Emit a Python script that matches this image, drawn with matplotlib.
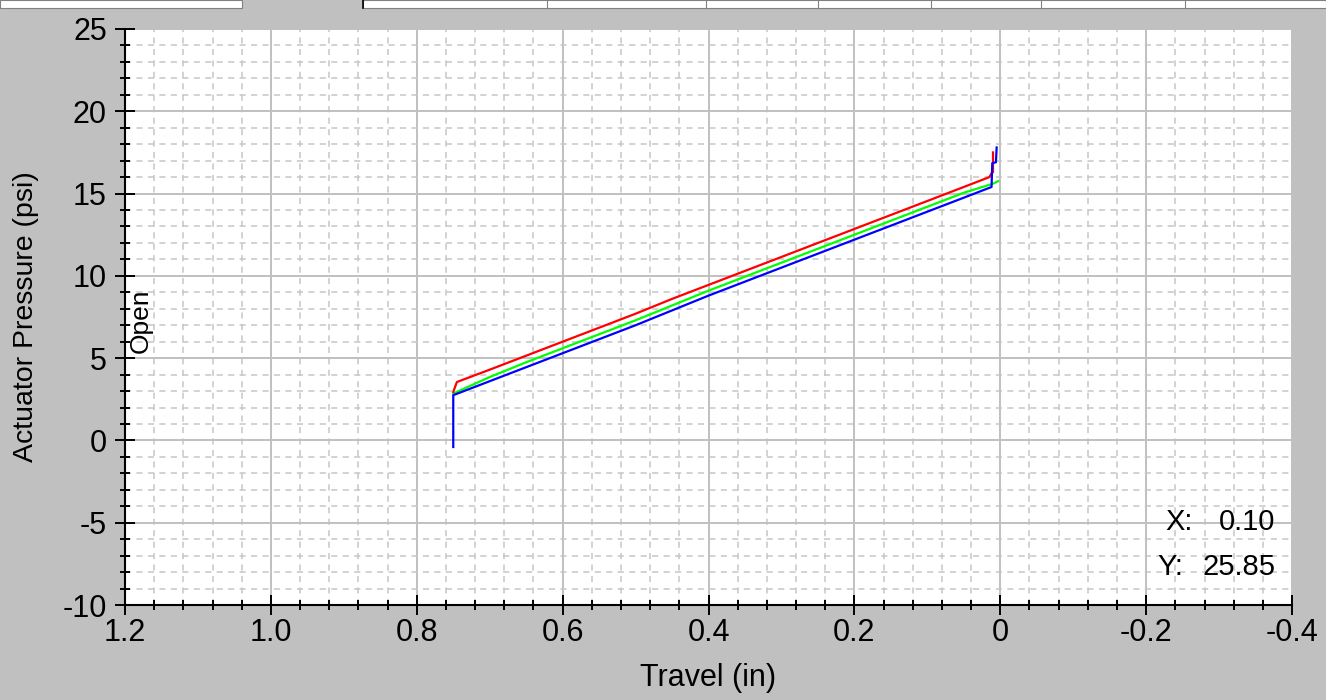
import matplotlib.pyplot as plt
from matplotlib.patches import Rectangle
from matplotlib.ticker import MultipleLocator

# travel (in) vs actuator pressure (psi)
red_travel = [0.75, 0.745, 0.70, 0.65, 0.60, 0.55, 0.50, 0.45, 0.40, 0.35, 0.30,
              0.25, 0.20, 0.15, 0.10, 0.05, 0.015, 0.011, 0.010, 0.010]
red_pressure = [2.95, 3.55, 4.3, 5.15, 6.0, 6.85, 7.7, 8.6, 9.45, 10.3, 11.15,
                12.0, 12.85, 13.7, 14.55, 15.4, 16.0, 16.3, 16.3, 17.5]

green_travel = [0.75, 0.70, 0.65, 0.60, 0.55, 0.50, 0.45, 0.40, 0.35, 0.30,
                0.25, 0.20, 0.15, 0.10, 0.05, 0.01, 0.003]
green_pressure = [2.85, 3.85, 4.75, 5.6, 6.45, 7.3, 8.2, 9.1, 9.95, 10.8,
                  11.65, 12.5, 13.35, 14.2, 15.05, 15.6, 15.75]

blue_travel = [0.75, 0.75, 0.70, 0.65, 0.60, 0.55, 0.50, 0.45, 0.40, 0.35, 0.30,
               0.25, 0.20, 0.15, 0.10, 0.05, 0.012, 0.011, 0.006, 0.005]
blue_pressure = [-0.4, 2.75, 3.6, 4.45, 5.3, 6.15, 7.0, 7.9, 8.8, 9.65, 10.5,
                 11.35, 12.2, 13.05, 13.9, 14.75, 15.4, 16.85, 16.9, 17.8]

x_ticks = [1.2, 1.0, 0.8, 0.6, 0.4, 0.2, 0.0, -0.2, -0.4]
x_tick_labels = ['1.2', '1.0', '0.8', '0.6', '0.4', '0.2', '0', '-0.2', '-0.4']
y_ticks = [25, 20, 15, 10, 5, 0, -5, -10]
y_tick_labels = ['25', '20', '15', '10', '5', '0', '-5', '-10']

cursor_x = '0.10'
cursor_y = '25.85'

plt.rcParams['font.family'] = ['Liberation Sans', 'DejaVu Sans']

fig = plt.figure(figsize=(13.26, 7.0), dpi=100, facecolor='#c0c0c0')
ax = fig.add_axes([0.0943, 0.1357, 0.8801, 0.8229])
ax.set_facecolor('white')

ax.plot(green_travel, green_pressure, color='#00ff00', linewidth=1.6)
ax.plot(red_travel, red_pressure, color='#ff0000', linewidth=1.6)
ax.plot(blue_travel, blue_pressure, color='#0000ff', linewidth=1.6)

ax.set_xlim(1.2, -0.4)
ax.set_ylim(-10, 25)
ax.set_xticks(x_ticks)
ax.set_xticklabels(x_tick_labels)
ax.set_yticks(y_ticks)
ax.set_yticklabels(y_tick_labels)
ax.xaxis.set_minor_locator(MultipleLocator(0.04))
ax.yaxis.set_minor_locator(MultipleLocator(1))

ax.set_axisbelow(True)
ax.grid(which='major', color='#c0c0c0', linestyle='-', linewidth=1.4)
ax.grid(which='minor', color='#c6c6c6', linestyle=(0, (4, 3.5)), linewidth=1.1)

for side in ['top', 'right']:
    ax.spines[side].set_visible(False)
for side in ['left', 'bottom']:
    ax.spines[side].set_linewidth(1.5)
    ax.spines[side].set_color('black')

ax.tick_params(which='major', direction='inout', length=14.4, width=1.4,
               labelsize=22, colors='black')
ax.tick_params(which='minor', direction='inout', length=7.2, width=1.4)
ax.tick_params(axis='y', which='major', pad=5.8)
ax.tick_params(axis='x', which='major', pad=2.2)

ax.set_xlabel('Travel (in)', fontsize=22)
ax.xaxis.set_label_coords(0.5, -0.1)
ax.set_ylabel('Actuator Pressure (psi)', fontsize=20.5)
ax.yaxis.set_label_coords(-0.074, 0.5)

ax.text(0.0133, 7.3, 'Open', rotation=90, fontsize=19, ha='center', va='center',
        transform=ax.get_yaxis_transform())

ax.text(0.891, 0.144, 'X:', fontsize=21, ha='left', va='center', transform=ax.transAxes)
ax.text(0.9854, 0.144, cursor_x, fontsize=21, ha='right', va='center', transform=ax.transAxes)
ax.text(0.8843, 0.066, 'Y:', fontsize=21, ha='left', va='center', transform=ax.transAxes)
ax.text(0.9854, 0.066, cursor_y, fontsize=21, ha='right', va='center', transform=ax.transAxes)

# leftover tab strip at the very top of the capture
W, H = 1326.0, 700.0
fig.add_artist(Rectangle((0, 1 - 8 / H), 242 / W, 8 / H, transform=fig.transFigure,
                         facecolor='white', edgecolor='#808080', linewidth=0.8))
fig.add_artist(Rectangle((363 / W, 1 - 8 / H), (W - 363) / W, 8 / H, transform=fig.transFigure,
                         facecolor='white', edgecolor='#808080', linewidth=0.8))
for px in [547, 706, 818, 931, 1041, 1185]:
    fig.add_artist(plt.Line2D([px / W, px / W], [1 - 8 / H, 1], transform=fig.transFigure,
                              color='#808080', linewidth=0.8))
fig.add_artist(plt.Line2D([363 / W, 363 / W], [1 - 8 / H, 1], transform=fig.transFigure,
                          color='black', linewidth=1.2))

fig.savefig('out.png', dpi=100, facecolor=fig.get_facecolor())
